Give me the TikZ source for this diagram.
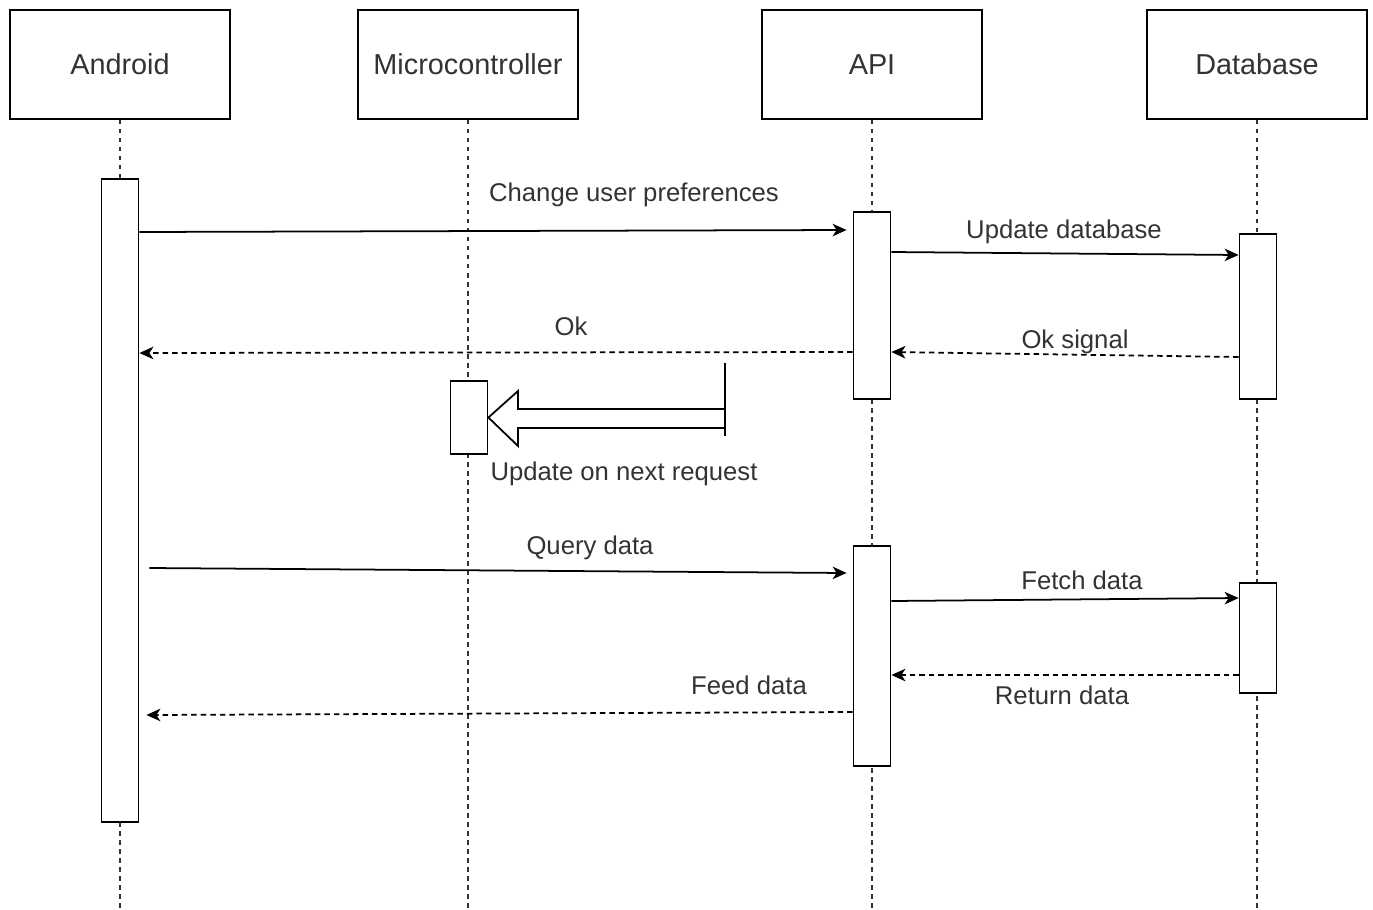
\documentclass[tikz,border=0pt]{standalone}
\usepackage{fontspec}
\setmainfont{Liberation Sans}
\usetikzlibrary{arrows.meta}
\tikzset{
  actor/.style={draw, line width=0.5pt, fill=white, minimum width=2.2cm, minimum height=1.09cm, inner sep=0pt, font=\fontsize{8.2}{10}\selectfont, text=black!80},
  act/.style={draw, line width=0.5pt, fill=white, minimum width=0.37cm, inner sep=0pt},
  lifeline/.style={line width=0.45pt, dash pattern=on 0.45mm off 0.45mm, black!80},
  msg/.style={line width=0.5pt, -{Stealth[length=1.4mm, width=1.25mm, inset=0.4mm]}},
  reply/.style={msg, dash pattern=on 0.55mm off 0.4mm},
  lbl/.style={font=\fontsize{7.3}{9}\selectfont, text=black!80, inner sep=0pt}
}
\begin{document}
\begin{tikzpicture}[x=0.01cm, y=-0.01cm]
      \useasboundingbox (0,0) rectangle (1373,909);
      %% actors
      \node[actor] (android) at (120, 64.5) {Android};
      \node[actor] (micro) at (468, 64.5) {Microcontroller};
      \node[actor] (api) at (872, 64.5) {API};
      \node[actor] (db) at (1257, 64.5) {Database};

      %% lifelines
      \draw[lifeline] (android.south) -- ++(0, 790);
      \draw[lifeline] (micro.south) -- ++(0, 790);
      \draw[lifeline] (api.south) -- ++(0, 790);
      \draw[lifeline] (db.south) -- ++(0, 790);

      %% activations
      \node[act, minimum height=6.43cm] (androidAct) at (120, 500.5) {};
      \node[act, minimum height=1.87cm] (apiAct1) at (872, 305.5) {};
      \node[act, minimum height=1.65cm] (dbAct1) at (1258, 316.5) {};
      \node[act, minimum height=0.73cm] (microAct) at (469, 417.5) {};
      \node[act, minimum height=2.2cm] (apiAct2) at (872, 656) {};
      \node[act, minimum height=1.1cm] (dbAct2) at (1258, 638) {};

      %% preferences
      \draw[msg] (androidAct.east |- 0, 232) -- ([xshift=-0.06cm]apiAct1.west |- 0, 230);
      \node[lbl] (prefLbl) at (634, 195) {Change user preferences};
      \draw[msg] (apiAct1.east |- 0, 252) -- (dbAct1.west |- 0, 255);
      \node[lbl] (updLbl) at (1064, 232) {Update database};
      \draw[reply] (dbAct1.west |- 0, 357) -- (apiAct1.east |- 0, 352);
      \node[lbl] (okSigLbl) at (1075, 342) {Ok signal};
      \draw[reply] (apiAct1.west |- 0, 352) -- (androidAct.east |- 0, 353);
      \node[lbl] (okLbl) at (571, 326) {Ok};

      %% next request
      \draw[line width=0.6pt] (725, 363) -- (725, 436);
      \draw[line width=0.5pt] (725, 409) -- (518, 409) -- (518, 391)
        -- (microAct.east) -- (518, 446) -- (518, 428) -- (725, 428);
      \node[lbl] (nextLbl) at (624, 474) {Update on next request};

      %% query
      \draw[msg] ([xshift=0.1cm]androidAct.east |- 0, 568) -- ([xshift=-0.06cm]apiAct2.west |- 0, 573);
      \node[lbl] (queryLbl) at (590, 548) {Query data};
      \draw[msg] (apiAct2.east |- 0, 601) -- (dbAct2.west |- 0, 598);
      \node[lbl] (fetchLbl) at (1082, 580) {Fetch data};
      \draw[reply] (dbAct2.west |- 0, 675) -- (apiAct2.east |- 0, 675);
      \node[lbl] (retLbl) at (1062, 695) {Return data};
      \draw[reply] (apiAct2.west |- 0, 712) -- ([xshift=0.07cm]androidAct.east |- 0, 715);
      \node[lbl] (feedLbl) at (749, 685) {Feed data};
\end{tikzpicture}
\end{document}
